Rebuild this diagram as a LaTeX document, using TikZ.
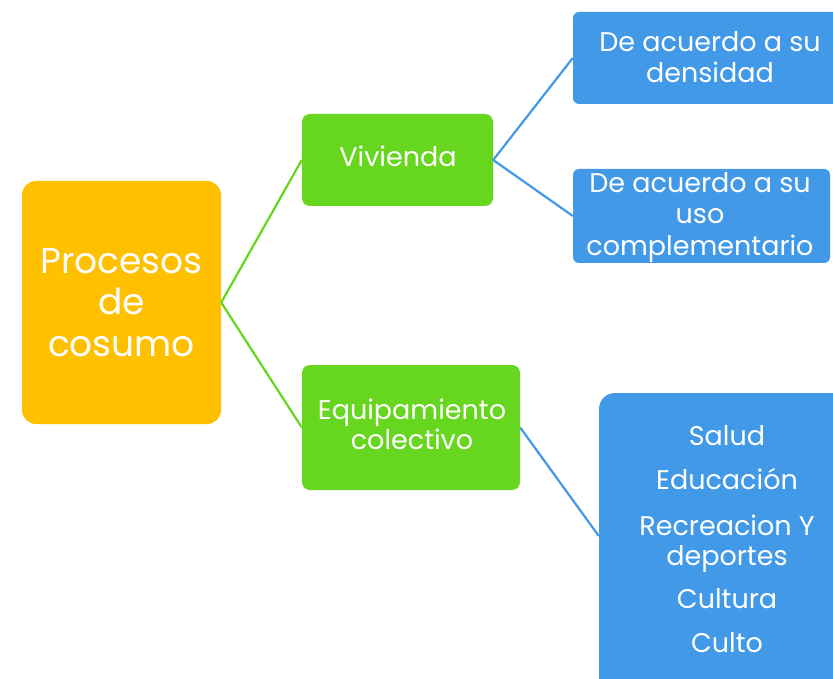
\documentclass[tikz,border=0pt]{standalone}
\usepackage{fontspec}
\setmainfont{Poppins}
\definecolor{orng}{HTML}{FFC000}
\definecolor{grn}{HTML}{66D61E}
\definecolor{blu}{HTML}{4299E8}
\begin{document}
\begin{tikzpicture}[x=1pt,y=-1pt,
  box/.style={inner sep=0pt},
  txt/.style={text=white, anchor=base, inner sep=0pt},
  big/.style={txt, font=\fontsize{36}{42}\selectfont},
  mid/.style={txt, font=\fontsize{27}{31}\selectfont},
  ln/.style={line width=2.2pt}]
\useasboundingbox (0,0) rectangle (833,679);
\clip (0,0) rectangle (833,679);
% boxes
\fill[orng, rounded corners=14pt] (22,181) rectangle (221,424);
\node[box, minimum width=199pt, minimum height=243pt] (proc) at (121.5,302.5) {};
\fill[grn, rounded corners=8pt] (302,114) rectangle (493,206);
\node[box, minimum width=191pt, minimum height=92pt] (viv) at (397.5,160) {};
\fill[grn, rounded corners=8pt] (302,365) rectangle (520,490);
\node[box, minimum width=218pt, minimum height=125pt] (equ) at (411,427.5) {};
\fill[blu, rounded corners=6pt] (573,12) rectangle (850,104);
\node[box, minimum width=277pt, minimum height=92pt] (den) at (711.5,58) {};
\fill[blu, rounded corners=6pt] (573,169) rectangle (830,263);
\node[box, minimum width=257pt, minimum height=94pt] (uso) at (701.5,216) {};
\fill[blu, rounded corners=16pt] (599,393) rectangle (860,700);
\node[box, minimum width=261pt, minimum height=286pt] (lst) at (729.5,536) {};
% texts
\node[big] (t1) at (121.5,273) {Procesos};
\node[big] (t2) at (121.5,314) {de};
\node[big] (t3) at (121.5,356) {cosumo};
\node[mid] (t4) at (398,167) {Vivienda};
\node[mid] (t5) at (412,419) {Equipamiento};
\node[mid] (t6) at (412,449) {colectivo};
\node[mid] (t7) at (710,52) {De acuerdo a su};
\node[mid] (t8) at (710,83) {densidad};
\node[mid] (t9) at (700,193) {De acuerdo a su};
\node[mid] (t10) at (700,224) {uso};
\node[mid] (t11) at (700,255) {complementario};
\node[mid] (t12) at (727,445) {Salud};
\node[mid] (t13) at (727,489) {Educación};
\node[mid] (t14) at (727,535) {Recreacion Y};
\node[mid] (t15) at (727,565) {deportes};
\node[mid] (t16) at (727,608) {Cultura};
\node[mid] (t17) at (727,652) {Culto};
% connectors
\draw[grn, ln] (proc.east) -- (viv.west);
\draw[grn, ln] (proc.east) -- (equ.west);
\draw[blu, ln] (viv.east) -- (den.west);
\draw[blu, ln] (viv.east) -- (uso.west);
\draw[blu, ln] (equ.east) -- (lst.west);
\end{tikzpicture}
\end{document}
